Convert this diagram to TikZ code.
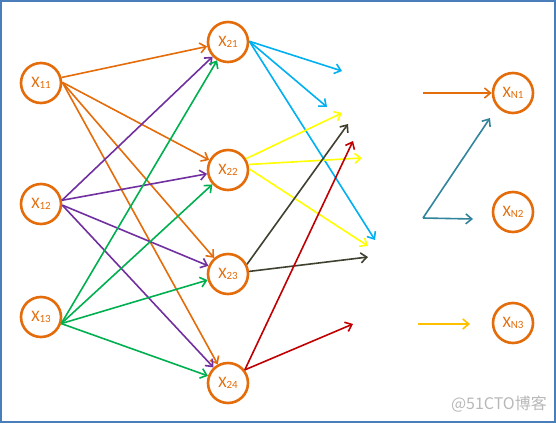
\documentclass[tikz,border=0pt]{standalone}
\usepackage{fontspec}
\setmainfont{Carlito}
\newfontfamily\cjkwm{Noto Sans CJK SC}
\usetikzlibrary{arrows.meta}
\definecolor{nodeor}{HTML}{E46C0A}
\definecolor{cpurple}{HTML}{7030A0}
\definecolor{cgreen}{HTML}{00B050}
\definecolor{ccyan}{HTML}{00B0F0}
\definecolor{cyellow}{HTML}{FFFF00}
\definecolor{cdark}{HTML}{404030}
\definecolor{cred}{HTML}{C00000}
\definecolor{cteal}{HTML}{31849B}
\definecolor{cgold}{HTML}{FFC000}
\definecolor{cborder}{HTML}{4A7EBB}
\newcommand{\nlab}[1]{X\raisebox{-0.6pt}{\fontsize{11}{11}\selectfont #1}}
\begin{document}
\begin{tikzpicture}[x=1pt,y=-1pt,
  neuron/.style={circle,draw=nodeor,line width=2.6pt,fill=white,minimum size=40pt,inner sep=0pt,text=nodeor,font=\fontsize{16}{16}\selectfont},
  arr/.style={line width=1.6pt,-{Straight Barb[length=6pt,width=10pt]}}]
\useasboundingbox (0,0) rectangle (556,423);
\draw[cborder,line width=1.2pt] (1,1) rectangle (555,422);
% nodes
\node[neuron] (x11) at (41,83) {\nlab{11}};
\node[neuron] (x12) at (41,204) {\nlab{12}};
\node[neuron] (x13) at (41,317) {\nlab{13}};
\node[neuron] (x21) at (228,42) {\nlab{21}};
\node[neuron] (x22) at (228,170) {\nlab{22}};
\node[neuron] (x23) at (228,274) {\nlab{23}};
\node[neuron] (x24) at (228,383) {\nlab{24}};
\node[neuron] (xn1) at (513,93) {\nlab{N1}};
\node[neuron] (xn2) at (513,212) {\nlab{N2}};
\node[neuron] (xn3) at (513,323) {\nlab{N3}};
% free ends
\coordinate (b1) at (342,71);
\coordinate (b2) at (327,107);
\coordinate (b3) at (375,240);
\coordinate (y1) at (342,113);
\coordinate (y2) at (362,158);
\coordinate (y3) at (368,246);
\coordinate (d1) at (348,124);
\coordinate (d2) at (368,257);
\coordinate (r1) at (353,141);
\coordinate (r2) at (353,324);
\coordinate (o0) at (423,93);
\coordinate (t0) at (423,218);
\coordinate (t1) at (490,118);
\coordinate (t2) at (473,219);
\coordinate (g0) at (418,324);
\coordinate (g1) at (470,324);
% layer 1 -> 2
\draw[arr,nodeor] (x11.15) -- (x21);
\foreach \t in {x22,x23,x24} \draw[arr,nodeor] (x11.2) -- (\t);
\foreach \t in {x21,x22} \draw[arr,cpurple] (x12.10) -- (\t);
\foreach \t in {x23,x24} \draw[arr,cpurple] (x12.-3) -- (\t);
\foreach \t in {x21,x22,x23,x24} \draw[arr,cgreen] (x13.-18) -- (\t);
% layer 2 -> free
\foreach \t in {b1,b2,b3} \draw[arr,ccyan] (x21.2) -- (\t);
\draw[arr,cyellow] (x22.32) -- (y1);
\draw[arr,cyellow] (x22.15) -- (y2);
\draw[arr,cyellow] (x22.3) -- (y3);
\draw[arr,cdark] (x23.27) -- (d1);
\draw[arr,cdark] (x23.7) -- (d2);
\foreach \t in {r1,r2} \draw[arr,cred] (x24.38) -- (\t);
% output side
\draw[arr,nodeor] (o0) -- (xn1);
\draw[arr,cteal] (t0) -- (t1);
\draw[arr,cteal] (t0) -- (t2);
\draw[arr,cgold] (g0) -- (g1);
\node[text=black!28,font=\cjkwm\fontsize{16}{16}\selectfont,anchor=east,inner sep=0pt] (wm) at (547,404) {@51CTO博客};
\end{tikzpicture}
\end{document}
